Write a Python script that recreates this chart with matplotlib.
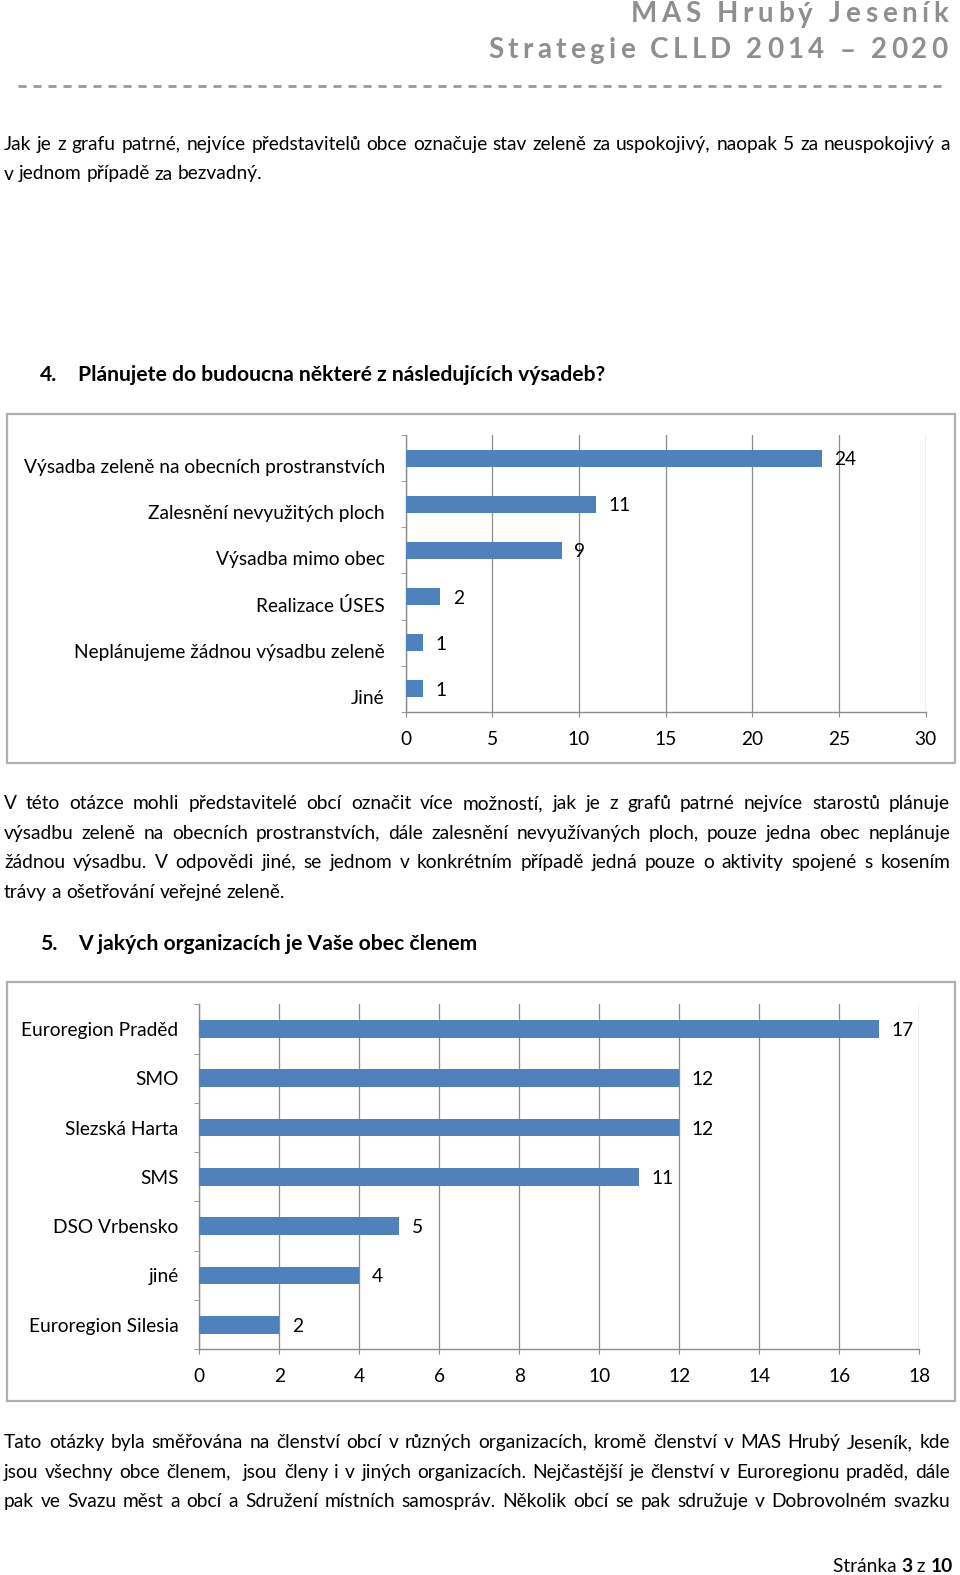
import matplotlib
matplotlib.use("Agg")
import matplotlib.pyplot as plt
import matplotlib.transforms as mtransforms
from matplotlib.patches import Rectangle
from matplotlib.lines import Line2D
import numpy as np

plt.rcParams['font.family'] = ['Lato', 'DejaVu Sans']

W, H = 960, 1575
BAR = '#4F81BD'
GRID = '#8c8c8c'

# chart 1 data
plan_labels = ['Výsadba zeleně na obecních prostranstvích', 'Zalesnění nevyužitých ploch',
               'Výsadba mimo obec', 'Realizace ÚSES', 'Neplánujeme žádnou výsadbu zeleně', 'Jiné']
plan_values = [24, 11, 9, 2, 1, 1]
plan_ticks = [0, 5, 10, 15, 20, 25, 30]

# chart 2 data
org_labels = ['Euroregion Praděd', 'SMO', 'Slezská Harta', 'SMS', 'DSO Vrbensko', 'jiné',
              'Euroregion Silesia']
org_values = [17, 12, 12, 11, 5, 4, 2]
org_ticks = [0, 2, 4, 6, 8, 10, 12, 14, 16, 18]

para1 = ['Jak je z grafu patrné, nejvíce představitelů obce označuje stav zeleně za uspokojivý, naopak 5 za neuspokojivý a',
         'v jednom případě za bezvadný.']
para2 = ['V této otázce mohli představitelé obcí označit více možností, jak je z grafů patrné nejvíce starostů plánuje',
         'výsadbu zeleně na obecních prostranstvích, dále zalesnění nevyužívaných ploch, pouze jedna obec neplánuje',
         'žádnou výsadbu. V odpovědi jiné, se jednom v konkrétním případě jedná pouze o aktivity spojené s kosením',
         'trávy a ošetřování veřejné zeleně.']
para3 = ['Tato otázky byla směřována na členství obcí v různých organizacích, kromě členství v MAS Hrubý Jeseník, kde',
         'jsou všechny obce členem,  jsou členy i v jiných organizacích. Nejčastější je členství v Euroregionu praděd, dále',
         'pak ve Svazu měst a obcí a Sdružení místních samospráv. Několik obcí se pak sdružuje v Dobrovolném svazku']

fig = plt.figure(figsize=(W / 100, H / 100), dpi=100)
renderer = fig.canvas.get_renderer()

BODY = 13.8
HEAD = 15.2


def fx(x):
    return x / W


def fy(y):
    return 1 - y / H


def text_w(s, **kw):
    t = fig.text(0, 0, s, **kw)
    w = t.get_window_extent(renderer).width
    t.remove()
    return w


def justify(y, line, x0=4, x1=950, last=False, **kw):
    words = line.split(' ')
    widths = [text_w(w, **kw) if w else 0 for w in words]
    sp = text_w('a a', **kw) - 2 * text_w('a', **kw)
    if last or len(words) < 2:
        gap = sp
    else:
        gap = (x1 - x0 - sum(widths)) / (len(words) - 1)
    x = x0
    for w, wd in zip(words, widths):
        if w:
            fig.text(fx(x), fy(y), w, va='baseline', ha='left', **kw)
        x += wd + gap


def spaced(x_right, y, s, track, **kw):
    sp = text_w('a a', **kw) - 2 * text_w('a', **kw)
    widths = [text_w(c, **kw) if c != ' ' else sp for c in s]
    total = sum(widths) + track * (len(s) - 1)
    x = x_right - total
    for c, wd in zip(s, widths):
        if c != ' ':
            fig.text(fx(x), fy(y), c, va='baseline', ha='left', **kw)
        x += wd + track


# header
hdr = dict(fontsize=20, fontweight='bold', color='#8f8f8f')
spaced(948, 22.5, 'MAS Hrubý Jeseník', 4.6, **hdr)
spaced(948, 58.5, 'Strategie CLLD 2014 – 2020', 4.3, **hdr)
fig.add_artist(Line2D([fx(18), fx(944)], [fy(85.5), fy(85.5)], color='#9a9a9a', lw=2.0,
                      dashes=(2.9, 2.5)))

# paragraph 1
justify(150, para1[0], fontsize=BODY)
justify(179.5, para1[1], last=True, fontsize=BODY)

# heading 4
fig.text(fx(40), fy(381), '4.', fontsize=HEAD, fontweight='bold', va='baseline')
fig.text(fx(78), fy(381), 'Plánujete do budoucna některé z následujících výsadeb?',
         fontsize=HEAD, fontweight='bold', va='baseline')

# paragraph 2
for i, line in enumerate(para2):
    justify(809 + i * 29.6, line, last=(i == len(para2) - 1), fontsize=BODY)

# heading 5
fig.text(fx(40), fy(950), '5.', fontsize=HEAD, fontweight='bold', va='baseline')
fig.text(fx(78), fy(950), 'V jakých organizacích je Vaše obec členem',
         fontsize=HEAD, fontweight='bold', va='baseline')

# paragraph 3
for i, line in enumerate(para3):
    justify(1448 + i * 29.6, line, fontsize=BODY)

# footer
pieces = [('Stránka ', 'normal'), ('3', 'bold'), (' z ', 'normal'), ('10', 'bold')]
x = 953
for s, wgt in reversed(pieces):
    wd = text_w(s, fontsize=BODY, fontweight=wgt)
    x -= wd
    fig.text(fx(x), fy(1572), s, fontsize=BODY, fontweight=wgt, va='baseline')


def frame(x0, y0, x1, y1):
    fig.add_artist(Rectangle((fx(x0), fy(y1)), fx(x1 - x0), (y1 - y0) / H,
                             fill=False, edgecolor='#b0b0b0', lw=1.6))


def bar_chart(box, labels, values, ticks, bar_h, label_dy):
    x0, y0, x1, y1 = box
    ax = fig.add_axes([fx(x0), fy(y1), fx(x1 - x0), (y1 - y0) / H])
    n = len(labels)
    pos = np.arange(n)
    ax.barh(pos, values, height=bar_h, color=BAR, zorder=3)
    ax.set_ylim(n - 0.5, -0.5)
    ax.set_xlim(ticks[0], ticks[-1])
    ax.set_xticks(ticks)
    ax.set_yticks(pos)
    ax.set_yticklabels(labels, fontsize=BODY)
    ax.set_yticks(np.arange(n + 1) - 0.5, minor=True)
    ax.tick_params(axis='y', which='major', length=0, pad=15)
    ax.tick_params(axis='y', which='minor', length=3.5, color=GRID, direction='out')
    ax.tick_params(axis='x', length=3.5, color=GRID, labelsize=BODY, pad=10)
    ax.xaxis.grid(True, color=GRID, lw=0.9, zorder=0)
    for side in ('top', 'right'):
        ax.spines[side].set_visible(False)
    for side in ('left', 'bottom'):
        ax.spines[side].set_color(GRID)
        ax.spines[side].set_linewidth(1.0)
    if label_dy:
        off = mtransforms.ScaledTranslation(0, -label_dy / 100, fig.dpi_scale_trans)
        for lab in ax.get_yticklabels():
            lab.set_transform(lab.get_transform() + off)
    for p, v in zip(pos, values):
        ax.annotate(str(v), (v, p), xytext=(9, 0), textcoords='offset points',
                    va='center_baseline', ha='left', fontsize=BODY)
    return ax


frame(7, 414, 955, 763)
bar_chart((405.7, 435, 925.7, 712), plan_labels, plan_values, plan_ticks, 0.37, 8)

frame(7, 982, 955, 1401)
bar_chart((199.3, 1004.3, 919.3, 1349.3), org_labels, org_values, org_ticks, 0.36, 0)

fig.savefig('out.png', dpi=100)
